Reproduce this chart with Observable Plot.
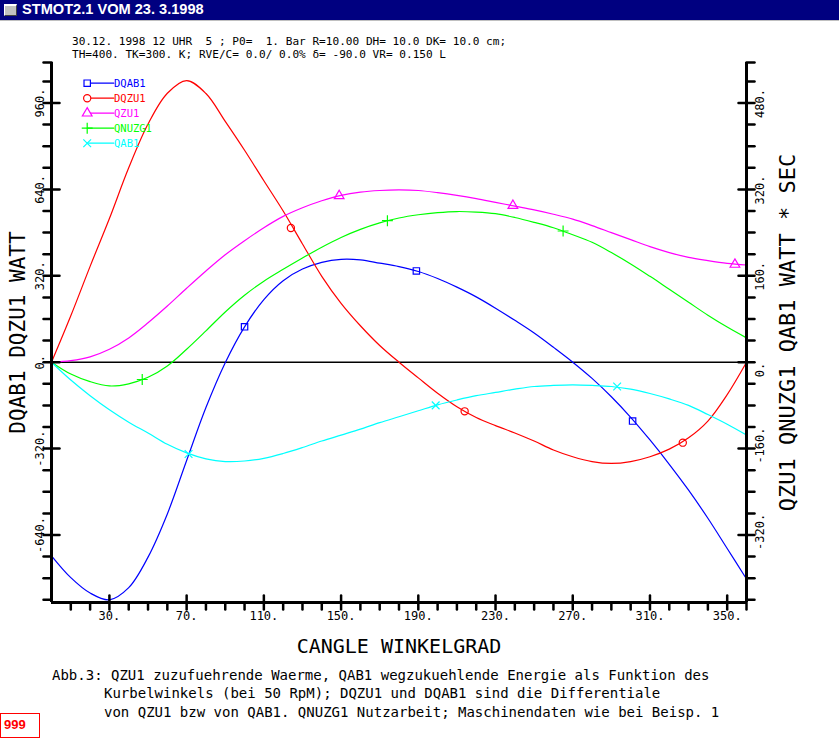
<!DOCTYPE html>
<html>
<head>
<meta charset="utf-8">
<script src="https://cdn.jsdelivr.net/npm/d3@7"></script>
<script src="https://cdn.jsdelivr.net/npm/@observablehq/plot@0.6"></script>
<style>
html,body{margin:0;padding:0;background:#fff;}
body{width:839px;height:738px;overflow:hidden;position:relative;}
#chart{position:absolute;left:0;top:0;}
#titlebar{position:absolute;left:0;top:0;width:839px;height:20px;background:#000080;border-bottom:1px solid #c0c0c0;z-index:2;}
#icon{position:absolute;left:4px;top:4px;width:11px;height:9px;background:#c0c0c0;border-top:2px solid #ffffff;border-left:1px solid #ffffff;border-right:1px solid #404040;border-bottom:1px solid #404040;}
#title{position:absolute;left:22px;top:0px;font:bold 14.6px "Liberation Sans",Arial,sans-serif;color:#fff;line-height:19px;white-space:pre;}
.mono{font-family:"DejaVu Sans Mono",monospace;white-space:pre;position:absolute;color:#000;z-index:2;}
.hdr{font-size:11.1px;line-height:13px;}
.cap{font-size:14px;line-height:16px;}
#box999{position:absolute;left:0;top:713px;width:38px;height:23px;border:1px solid #ff0000;z-index:2;}
#t999{position:absolute;left:3px;top:3px;font:bold 13px "Liberation Sans",Arial,sans-serif;color:#ff0000;line-height:15px;}
</style>
</head>
<body>
<div id="chart"></div>
<div id="titlebar"><div id="icon"></div><div id="title">STMOT2.1 VOM 23. 3.1998</div></div>
<div class="mono hdr" id="h1" style="left:72px;top:35px;"></div>
<div class="mono hdr" id="h2" style="left:72px;top:48px;"></div>
<div class="mono cap" id="c1" style="left:52px;top:667px;"></div>
<div class="mono cap" id="c2" style="left:104px;top:685px;"></div>
<div class="mono cap" id="c3" style="left:104px;top:704px;"></div>
<div id="box999"><div id="t999">999</div></div>
<script>
// ---- texts ----
const headerLines = [
  "30.12. 1998 12 UHR  5 ; P0=  1. Bar R=10.00 DH= 10.0 DK= 10.0 cm;",
  "TH=400. TK=300. K; RVE/C= 0.0/ 0.0% \u03b4= -90.0 VR= 0.150 L"
];
const captionLines = [
  "Abb.3: QZU1 zuzufuehrende Waerme, QAB1 wegzukuehlende Energie als Funktion des",
  "Kurbelwinkels (bei 50 RpM); DQZU1 und DQAB1 sind die Differentiale",
  "von QZU1 bzw von QAB1. QNUZG1 Nutzarbeit; Maschinendaten wie bei Beisp. 1"
];
const xTitle = "CANGLE WINKELGRAD";
const yLeftTitle = "DQAB1 DQZU1 WATT";
const yRightTitle = "QZU1 QNUZG1 QAB1 WATT * SEC";

// ---- data ----
const angles = [0,10,20,30,40,50,60,70,80,90,100,110,120,130,140,150,160,170,180,190,200,210,220,230,240,250,260,270,280,290,300,310,320,330,340,350,360];
// left axis (WATT)
const dqab1 = [-717,-798,-855,-880,-835,-722,-562,-364,-168,-2,131,232,302,345,370,381,379,367,354,336,310,278,242,200,155,108,55,0,-60,-128,-204,-288,-378,-474,-578,-690,-803];
const dqzu1 = [0,172,355,532,720,882,996,1043,995,892,785,672,560,438,318,218,135,62,0,-58,-115,-165,-205,-235,-262,-292,-325,-350,-368,-375,-368,-350,-322,-280,-218,-120,0];
// right axis (WATT * SEC)
const qzu1 = [0,3,10,24,45,73,104,137,169,199,225,249,270,286,299,309,315,318,319,318,314,309,303,296,289,282,274,265,253,240,227,214,203,194,188,183,180];
const qnuzg1 = [0,-22,-36,-44,-40,-28,-7,24,58,93,124,150,172,193,213,231,246,258,267,273,277,279,278,275,268,259,249,236,222,203,182,159,135,111,87,65,45];
const qab1 = [0,-33,-62,-88,-111,-131,-152,-168,-179,-184,-183,-178,-169,-158,-146,-135,-124,-112,-101,-90,-79,-70,-62,-56,-50,-45,-43,-42,-43,-45,-50,-58,-68,-80,-97,-115,-135];

// marker positions
const dqab1MarkX = [100,189,301],  dqab1MarkY = [131,338,-218];
const dqzu1MarkX = [124,214,327],  dqzu1MarkY = [497,-182,-298];
const qzu1MarkX = [149,239,354],   qzu1MarkY = [308,290,181];
const qnuzg1MarkX = [47,174,265],  qnuzg1MarkY = [-32,262,243];
const qab1MarkX = [71,199,293],    qab1MarkY = [-170,-80,-45];

const seriesNames = ["DQAB1","DQZU1","QZU1","QNUZG1","QAB1"];
const seriesColors = ["#0000ff","#ff0000","#ff00ff","#00ff00","#00ffff"];
const seriesSymbols = ["square","circle","triangle","plus","times"];
const seriesSides = ["left","left","right","right","right"];
const seriesValues = [dqab1,dqzu1,qzu1,qnuzg1,qab1];
const seriesMarkX = [dqab1MarkX,dqzu1MarkX,qzu1MarkX,qnuzg1MarkX,qab1MarkX];
const seriesMarkY = [dqab1MarkY,dqzu1MarkY,qzu1MarkY,qnuzg1MarkY,qab1MarkY];

// ticks
const xMajor = [30,70,110,150,190,230,270,310,350];
const xMinor = [10,20,40,50,60,80,90,100,120,130,140,160,170,180,200,210,220,240,250,260,280,290,300,320,330,340];
const yLeftMajor = [-640,-320,0,320,640,960];
const yLeftMinor = [-880,-800,-720,-560,-480,-400,-240,-160,-80,80,160,240,400,480,560,720,800,880,1040];
const yRightMajor = [-320,-160,0,160,320,480];

// ---- scales ----
const xDomain = [0,360];
const yDomain = [-890,1110];
const rightFactor = 2;
document.getElementById("h1").textContent = headerLines[0];
document.getElementById("h2").textContent = headerLines[1];
document.getElementById("c1").textContent = captionLines[0];
document.getElementById("c2").textContent = captionLines[1];
document.getElementById("c3").textContent = captionLines[2];

const mono = "DejaVu Sans Mono, monospace";
const seg = {draw(ctx, l){ ctx.moveTo(0,0); ctx.lineTo(0,-l); }};
const toY = (side, v) => side === "right" ? v*rightFactor : v;
const fmt = d => d + ".";

const marks = [];
marks.push(Plot.ruleY([0], {stroke:"#000", strokeWidth:1.5}));

seriesNames.forEach((name, k) => {
  const side = seriesSides[k], vals = seriesValues[k];
  marks.push(Plot.line(angles, {x: d=>d, y: (d,i)=>toY(side, vals[i]), stroke: seriesColors[k], strokeWidth: 1.2, curve: "catmull-rom"}));
  const my = seriesMarkY[k];
  marks.push(Plot.dot(seriesMarkX[k], {x: d=>d, y: (d,i)=>toY(side, my[i]), symbol: seriesSymbols[k], stroke: seriesColors[k], fill: "none", r: 3.6, strokeWidth: 1.2}));
});

// axes lines
marks.push(Plot.ruleX(xDomain, {stroke:"#000", strokeWidth:3}));
marks.push(Plot.ruleY([yDomain[0]], {stroke:"#000", strokeWidth:3}));
// left ticks
marks.push(Plot.vector(yLeftMinor.concat([yDomain[1]]), {y:d=>d, frameAnchor:"left", rotate:-90, length:8, anchor:"start", shape:seg, stroke:"#000", strokeWidth:2.5}));
marks.push(Plot.vector(yLeftMajor, {y:d=>d, frameAnchor:"left", rotate:90, length:16, anchor:"middle", shape:seg, stroke:"#000", strokeWidth:2.5}));
// right ticks
marks.push(Plot.vector(yLeftMinor.concat([yDomain[1]]), {y:d=>d, frameAnchor:"right", rotate:90, length:8, anchor:"start", shape:seg, stroke:"#000", strokeWidth:2.5}));
marks.push(Plot.vector(yRightMajor, {y:d=>d*rightFactor, frameAnchor:"right", rotate:90, length:16, anchor:"middle", shape:seg, stroke:"#000", strokeWidth:2.5}));
// bottom ticks
marks.push(Plot.vector(xMinor, {x:d=>d, frameAnchor:"bottom", rotate:180, length:7, anchor:"start", shape:seg, stroke:"#000", strokeWidth:2.5}));
marks.push(Plot.vector(xMajor.concat([360]), {x:d=>d, frameAnchor:"bottom", rotate:0, length:14, anchor:"middle", shape:seg, stroke:"#000", strokeWidth:2.5}));

// tick labels
marks.push(Plot.text(yLeftMajor, {y:d=>d, frameAnchor:"left", dx:-11, rotate:-90, textAnchor:"middle", lineAnchor:"middle", text:fmt, fontSize:12, fontFamily:mono, fill:"#000"}));
marks.push(Plot.text(yRightMajor, {y:d=>d*rightFactor, frameAnchor:"right", dx:14, dy:15, rotate:-90, textAnchor:"start", lineAnchor:"middle", text:fmt, fontSize:12, fontFamily:mono, fill:"#000"}));
marks.push(Plot.text(xMajor, {x:d=>d, frameAnchor:"bottom", dy:14, lineAnchor:"middle", text:fmt, fontSize:12, fontFamily:mono, fill:"#000"}));

// axis titles
marks.push(Plot.text([yLeftTitle], {frameAnchor:"left", dx:-33, rotate:-90, textAnchor:"middle", lineAnchor:"middle", text:d=>d, fontSize:21, fontFamily:mono, fill:"#000"}));
marks.push(Plot.text([yRightTitle], {frameAnchor:"right", dx:41, rotate:-90, textAnchor:"middle", lineAnchor:"middle", text:d=>d, fontSize:22, fontFamily:mono, fill:"#000"}));
marks.push(Plot.text([xTitle], {frameAnchor:"bottom", dy:44, lineAnchor:"middle", text:d=>d, fontSize:20, fontFamily:mono, fill:"#000"}));

// legend
seriesNames.forEach((name, k) => {
  const dy = 20.7 + 15*k;
  marks.push(Plot.vector([name], {frameAnchor:"top-left", dx:35.7, dy, rotate:90, length:26.6, anchor:"start", shape:seg, stroke:seriesColors[k], strokeWidth:1.2}));
  marks.push(Plot.dot([name], {frameAnchor:"top-left", dx:35.7, dy, symbol:seriesSymbols[k], stroke:seriesColors[k], fill:"white", r:3.6, strokeWidth:1.2}));
  marks.push(Plot.text([name], {frameAnchor:"top-left", dx:62.5, dy, text:d=>d, textAnchor:"start", lineAnchor:"middle", fill:seriesColors[k], fontSize:10.5, fontFamily:mono}));
});

const chart = Plot.plot({
  width: 839, height: 660,
  marginLeft: 51, marginRight: 93, marginTop: 62, marginBottom: 58,
  x: {domain: xDomain, axis: null},
  y: {domain: yDomain, axis: null},
  style: {background: "transparent", fontFamily: mono, overflow: "visible"},
  marks
});
document.getElementById("chart").appendChild(chart);
</script>
</body>
</html>
